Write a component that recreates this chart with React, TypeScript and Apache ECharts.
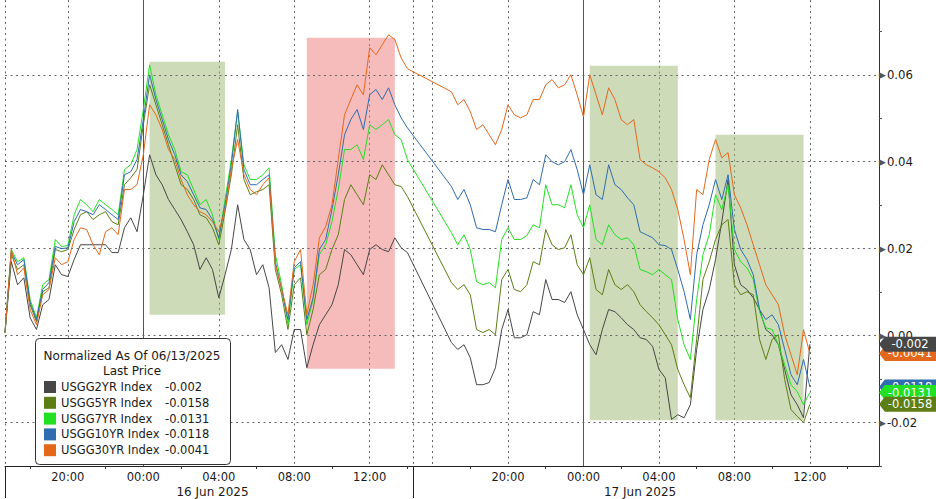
import React, { useEffect, useRef } from "react";
import * as echarts from "echarts";

const FONT = "DejaVu Sans";

const SERIES_NAMES = ["USGG2YR Index", "USGG5YR Index", "USGG7YR Index", "USGG10YR Index", "USGG30YR Index"];
const LINE_COLORS = ["#474747", "#5c7e15", "#22e022", "#2f6cb0", "#e4681c"];
const TAG_Z = [10, 8, 7, 6, 9];

const LEGEND_TITLE = "Normalized As Of 06/13/2025";
const LEGEND_SUBTITLE = "Last Price";

// time slots (20 min), two sessions
const SESSION_STARTS = ["06-15 16:40", "06-16 15:20"];
const SESSION_SLOTS = [66, 74];
const SLOT_MINUTES = 20;

const SEPARATORS = ["06-15 16:40", "06-16 14:20"];
const DAY_LINES = ["06-16 00:00", "06-17 00:00"];
const DATE_AT = ["06-16 03:40", "06-17 03:00"];
const DATE_TEXT = ["16 Jun 2025", "17 Jun 2025"];
const Y_GRID = [-0.02, 0, 0.02, 0.04, 0.06];

const HIGHLIGHT_FROM = ["06-16 00:20", "06-16 08:40", "06-17 00:20", "06-17 07:00"];
const HIGHLIGHT_TO = ["06-16 04:20", "06-16 13:20", "06-17 05:00", "06-17 11:40"];
const HIGHLIGHT_TOP = [0.063, 0.0685, 0.0621, 0.0462];
const HIGHLIGHT_BOTTOM = [0.0048, -0.0076, -0.0195, -0.0195];
const HIGHLIGHT_COLOR = ["rgba(155,183,113,0.5)", "rgba(237,121,121,0.5)", "rgba(155,183,113,0.5)", "rgba(155,183,113,0.5)"];

const N = null;

const USGG2YR = [
  0.0007, 0.0170, 0.0117, 0.0133, 0.0041, 0.0014, 0.0071, 0.0083, 0.0163, 0.0140,
  0.0136, 0.0175, 0.0209, 0.0209, 0.0209, 0.0209, 0.0209, 0.0191, 0.0191, 0.0248,
  0.0271, 0.0239, 0.0324, 0.0416, 0.0370, 0.0347, 0.0313, 0.0290, 0.0267, 0.0239,
  0.0209, 0.0152, 0.0179, 0.0152, 0.0087, 0.0140, 0.0198, 0.0301, 0.0221, 0.0198,
  0.0140, 0.0163, 0.0110, -0.0039, -0.0021, -0.0055, 0.0014, 0.0014, -0.0074, -0.0021,
  0.0025, 0.0048, 0.0071, 0.0117, 0.0198, 0.0186, 0.0163, 0.0140, 0.0198, 0.0209,
  0.0198, 0.0193, 0.0225, 0.0202, 0.0191, N, N, N, N, N,
  N, -0.0016, -0.0032, -0.0021, -0.0051, -0.0113, -0.0113, -0.0108, -0.0074, 0.0014,
  0.0060, -0.0005, -0.0005, 0.0002, 0.0055, 0.0048, 0.0129, 0.0083, 0.0083, 0.0076,
  0.0101, 0.0048, 0.0014, -0.0021, -0.0044, 0.0014, 0.0060, 0.0055, 0.0041, 0.0025,
  0.0014, -0.0005, -0.0009, -0.0025, -0.0078, -0.0097, -0.0193, -0.0182, -0.0189, -0.0159,
  -0.0032, 0.0060, 0.0106, 0.0175, 0.0262, 0.0359, 0.0163, 0.0117, 0.0106, 0.0087,
  0.0060, 0.0014, 0.0002, -0.0021, -0.0078, -0.0136, -0.0159, -0.0189, -0.002,
];

const USGG5YR = [
  0.0007, 0.0186, 0.0152, 0.0163, 0.0071, 0.0032, 0.0101, 0.0110, 0.0198, 0.0193,
  0.0198, 0.0244, 0.0278, 0.0285, 0.0267, 0.0278, 0.0285, 0.0262, 0.0255, 0.0347,
  0.0363, 0.0382, 0.0485, 0.0577, 0.0531, 0.0485, 0.0439, 0.0393, 0.0347, 0.0336,
  0.0313, 0.0278, 0.0271, 0.0248, 0.0209, 0.0285, 0.0370, 0.0485, 0.0359, 0.0324,
  0.0331, 0.0336, 0.0347, 0.0152, 0.0094, 0.0014, 0.0117, 0.0133, 0.0002, 0.0060,
  0.0140, 0.0152, 0.0198, 0.0232, 0.0313, 0.0347, 0.0324, 0.0301, 0.0370, 0.0359,
  0.0393, 0.0370, 0.0347, 0.0343, 0.0320, N, N, N, N, N,
  N, 0.0122, 0.0106, 0.0117, 0.0094, 0.0014, 0.0007, 0.0014, 0.0002, 0.0129,
  0.0152, 0.0106, 0.0101, 0.0117, 0.0170, 0.0163, 0.0244, 0.0209, 0.0198, 0.0202,
  0.0232, 0.0163, 0.0140, 0.0179, 0.0106, 0.0094, 0.0152, 0.0117, 0.0106, 0.0117,
  0.0101, 0.0071, 0.0055, 0.0041, 0.0025, 0.0002, -0.0021, -0.0078, -0.0113, -0.0143,
  -0.0009, 0.0129, 0.0170, 0.0221, 0.0255, 0.0267, 0.0117, 0.0094, 0.0101, 0.0094,
  -0.0009, -0.0055, -0.0009, 0.0002, -0.0101, -0.0170, -0.0186, -0.0200, -0.0158,
];

const USGG7YR = [
  0.0007, 0.0198, 0.0170, 0.0179, 0.0083, 0.0041, 0.0117, 0.0129, 0.0221, 0.0205,
  0.0207, 0.0278, 0.0313, 0.0301, 0.0285, 0.0313, 0.0301, 0.0290, 0.0278, 0.0382,
  0.0393, 0.0428, 0.0520, 0.0623, 0.0554, 0.0508, 0.0462, 0.0428, 0.0377, 0.0370,
  0.0336, 0.0301, 0.0313, 0.0278, 0.0221, 0.0313, 0.0405, 0.0515, 0.0393, 0.0359,
  0.0359, 0.0370, 0.0386, 0.0186, 0.0117, 0.0025, 0.0152, 0.0163, 0.0025, 0.0083,
  0.0186, 0.0209, 0.0262, 0.0336, 0.0428, 0.0428, 0.0439, 0.0405, 0.0485, 0.0474,
  0.0485, 0.0497, 0.0462, 0.0451, 0.0405, N, N, N, N, N,
  N, 0.0237, 0.0209, 0.0232, 0.0198, 0.0124, 0.0117, 0.0122, 0.0110, 0.0221,
  0.0248, 0.0221, 0.0221, 0.0230, 0.0255, 0.0248, 0.0347, 0.0301, 0.0301, 0.0294,
  0.0347, 0.0278, 0.0248, 0.0301, 0.0221, 0.0209, 0.0255, 0.0232, 0.0221, 0.0225,
  0.0209, 0.0152, 0.0147, 0.0140, 0.0152, 0.0140, 0.0129, 0.0037, -0.0021, -0.0055,
  0.0083, 0.0186, 0.0232, 0.0324, 0.0290, 0.0347, 0.0198, 0.0170, 0.0156, 0.0129,
  0.0055, 0.0018, 0.0014, -0.0021, -0.0067, -0.0113, -0.0129, -0.0159, -0.0131,
];

const USGG10YR = [
  0.0007, 0.0193, 0.0163, 0.0175, 0.0076, 0.0037, 0.0106, 0.0122, 0.0205, 0.0200,
  0.0202, 0.0262, 0.0290, 0.0285, 0.0278, 0.0301, 0.0290, 0.0278, 0.0267, 0.0370,
  0.0377, 0.0405, 0.0497, 0.0600, 0.0543, 0.0497, 0.0451, 0.0416, 0.0370, 0.0354,
  0.0324, 0.0294, 0.0290, 0.0267, 0.0225, 0.0301, 0.0393, 0.0520, 0.0382, 0.0347,
  0.0347, 0.0359, 0.0370, 0.0170, 0.0106, 0.0037, 0.0156, 0.0170, 0.0037, 0.0087,
  0.0198, 0.0221, 0.0290, 0.0370, 0.0462, 0.0497, 0.0520, 0.0474, 0.0554, 0.0566,
  0.0543, 0.0570, 0.0531, 0.0501, 0.0478, N, N, N, N, N,
  N, 0.0343, 0.0313, 0.0336, 0.0301, 0.0248, 0.0244, 0.0244, 0.0239, 0.0301,
  0.0359, 0.0313, 0.0313, 0.0317, 0.0359, 0.0347, 0.0416, 0.0400, 0.0393, 0.0400,
  0.0428, 0.0382, 0.0324, 0.0393, 0.0324, 0.0313, 0.0393, 0.0347, 0.0336, 0.0317,
  0.0301, 0.0239, 0.0232, 0.0225, 0.0209, 0.0207, 0.0198, 0.0152, 0.0101, 0.0037,
  0.0186, 0.0255, 0.0301, 0.0359, 0.0313, 0.0370, 0.0244, 0.0198, 0.0175, 0.0140,
  0.0060, 0.0037, 0.0048, 0.0025, -0.0032, -0.0090, -0.0113, -0.0055, -0.0118,
];

const USGG30YR = [
  0.0007, 0.0198, 0.0140, 0.0156, 0.0060, 0.0025, 0.0094, 0.0106, 0.0179, 0.0163,
  0.0170, 0.0221, 0.0248, 0.0244, 0.0209, 0.0186, 0.0239, 0.0248, 0.0232, 0.0336,
  0.0336, 0.0347, 0.0416, 0.0531, 0.0508, 0.0474, 0.0428, 0.0405, 0.0359, 0.0324,
  0.0301, 0.0285, 0.0278, 0.0262, 0.0239, 0.0290, 0.0382, 0.0451, 0.0370, 0.0336,
  0.0324, 0.0347, 0.0363, 0.0163, 0.0106, 0.0048, 0.0170, 0.0198, 0.0048, 0.0117,
  0.0225, 0.0251, 0.0301, 0.0405, 0.0508, 0.0543, 0.0577, 0.0554, 0.0662, 0.0646,
  0.0669, 0.0692, 0.0681, 0.0639, 0.0614, N, N, N, N, N,
  N, 0.0561, 0.0531, 0.0543, 0.0515, 0.0474, 0.0485, 0.0462, 0.0439, 0.0474,
  0.0531, 0.0508, 0.0501, 0.0508, 0.0543, 0.0543, 0.0577, 0.0589, 0.0570, 0.0577,
  0.0600, 0.0554, 0.0503, 0.0600, 0.0554, 0.0508, 0.0570, 0.0543, 0.0497, 0.0485,
  0.0497, 0.0405, 0.0393, 0.0386, 0.0377, 0.0363, 0.0336, 0.0290, 0.0221, 0.0140,
  0.0336, 0.0324, 0.0405, 0.0451, 0.0409, 0.0421, 0.0324, 0.0294, 0.0255, 0.0209,
  0.0163, 0.0117, 0.0094, 0.0071, 0.0002, -0.0044, -0.0090, 0.0014, -0.0041,
];

const SERIES_DATA = [USGG2YR, USGG5YR, USGG7YR, USGG10YR, USGG30YR];

function pad(n: number) {
  return n < 10 ? "0" + n : String(n);
}
function toMin(s: string) {
  const d = +s.slice(3, 5), h = +s.slice(6, 8), m = +s.slice(9, 11);
  return (d - 15) * 1440 + h * 60 + m;
}
function fmt(t: number) {
  const d = 15 + Math.floor(t / 1440);
  const r = t % 1440;
  return `06-${pad(d)} ${pad(Math.floor(r / 60))}:${pad(r % 60)}`;
}
const CATEGORIES: string[] = [];
SESSION_STARTS.forEach((s, k) => {
  const t0 = toMin(s);
  for (let i = 0; i < SESSION_SLOTS[k]; i++) CATEGORIES.push(fmt(t0 + i * SLOT_MINUTES));
});
const hh = (v: string) => +v.slice(6, 8);
const mm = (v: string) => +v.slice(9, 11);

export default function App() {
  const ref = useRef<HTMLDivElement>(null);
  useEffect(() => {
    if (!ref.current) return;
    const chart = echarts.init(ref.current, null, { renderer: "svg" });
    const lastCat = CATEGORIES[CATEGORIES.length - 1];
    const last = SERIES_DATA.map((d) => d[d.length - 1] as number);
    const dotted = { type: [2, 3.5] as any, color: "#666", width: 1 };

    const series: any[] = SERIES_NAMES.map((name, i) => {
      const s: any = {
        type: "line",
        name,
        data: SERIES_DATA[i],
        showSymbol: false,
        symbol: "none",
        connectNulls: true,
        clip: false,
        silent: true,
        z: 2,
        lineStyle: { width: 1, color: LINE_COLORS[i] },
        itemStyle: { color: LINE_COLORS[i] },
        markPoint: {
          z: TAG_Z[i],
          silent: true,
          symbol: "path://M0,7 L6,0 L60,0 L60,14 L6,14 Z",
          symbolSize: [58, 15],
          symbolKeepAspect: false,
          symbolOffset: [29, 0],
          itemStyle: { color: LINE_COLORS[i] },
          label: {
            show: true,
            position: "inside",
            offset: [2, 0],
            color: "#fff",
            fontSize: 11.5,
            fontFamily: FONT,
            formatter: () => String(last[i]),
          },
          data: [{ coord: [lastCat, last[i]], value: last[i] }],
        },
      };
      if (i === 0) {
        s.markArea = {
          silent: true,
          z: 1,
          data: HIGHLIGHT_FROM.map((f, k) => [
            { xAxis: f, yAxis: HIGHLIGHT_TOP[k], itemStyle: { color: HIGHLIGHT_COLOR[k] } },
            { xAxis: HIGHLIGHT_TO[k], yAxis: HIGHLIGHT_BOTTOM[k] },
          ]),
        };
        s.markLine = {
          silent: true,
          z: 1,
          symbol: ["none", "none"],
          label: { show: false },
          lineStyle: dotted,
          data: Y_GRID.map((v) => ({ yAxis: v })),
        };
      }
      return s;
    });

    chart.setOption({
      animation: false,
      textStyle: { fontFamily: FONT },
      grid: { left: 5, right: 57, top: 0, bottom: 33, containLabel: false },
      xAxis: [
        {
          type: "category",
          data: CATEGORIES,
          boundaryGap: false,
          position: "bottom",
          axisLine: { show: true, onZero: false, lineStyle: { color: "#222", width: 1 } },
          axisTick: {
            show: true,
            length: 3,
            interval: (_i: number, v: string) => hh(v) % 4 === 2 && mm(v) === 0,
            lineStyle: { color: "#333" },
          },
          axisLabel: {
            interval: (_i: number, v: string) => hh(v) % 4 === 0 && mm(v) === 0 && hh(v) !== 16,
            formatter: (v: string) => v.slice(6),
            margin: 5,
            fontFamily: FONT,
            fontSize: 11.5,
            color: "#1a1a1a",
          },
          splitLine: {
            show: true,
            interval: (_i: number, v: string) => (hh(v) % 4 === 0 && mm(v) === 0) || SEPARATORS.includes(v),
            lineStyle: dotted,
          },
        },
        {
          type: "category",
          data: CATEGORIES,
          boundaryGap: false,
          position: "bottom",
          axisLine: { show: false, onZero: false },
          axisTick: {
            show: true,
            length: 32,
            interval: (_i: number, v: string) => SEPARATORS.includes(v),
            lineStyle: { color: "#222" },
          },
          axisLabel: {
            interval: (_i: number, v: string) => DATE_AT.includes(v),
            formatter: (v: string) => DATE_TEXT[DATE_AT.indexOf(v)] || "",
            margin: 20,
            fontFamily: FONT,
            fontSize: 12,
            color: "#1a1a1a",
          },
          splitLine: {
            show: true,
            interval: (_i: number, v: string) => DAY_LINES.includes(v),
            lineStyle: { type: "solid", color: "#555", width: 1 },
          },
        },
      ],
      yAxis: {
        type: "value",
        position: "right",
        min: -0.03,
        max: 0.0772,
        interval: 0.01,
        axisLine: { show: true, lineStyle: { color: "#333" } },
        axisTick: { show: true, length: 3, lineStyle: { color: "#555" } },
        splitLine: { show: false },
        axisLabel: {
          margin: 0,
          showMaxLabel: false,
          formatter: (v: number) => {
            const k = Math.round(v * 100);
            if (Math.abs(v * 100 - k) > 1e-6 || k % 2 !== 0) return "";
            return "{t|\u25B6}{l|" + v.toFixed(2) + "}";
          },
          rich: {
            t: { fontSize: 9, color: "#555", fontFamily: FONT },
            l: { fontSize: 11.7, color: "#1a1a1a", fontFamily: FONT, padding: [0, 0, 0, 1] },
          },
        },
      },
      legend: {
        orient: "vertical",
        left: 44,
        top: 381,
        padding: 0,
        itemWidth: 12,
        itemHeight: 12,
        itemGap: 3.8,
        icon: "rect",
        selectedMode: false,
        z: 200,
        data: SERIES_NAMES,
        formatter: (name: string) => {
          const i = SERIES_NAMES.indexOf(name);
          return `{n|${name}}{v|${last[i]}}`;
        },
        textStyle: {
          fontFamily: FONT,
          fontSize: 11.5,
          lineHeight: 12,
          color: "#1a1a1a",
          rich: {
            n: { width: 104, fontFamily: FONT, fontSize: 11.5, lineHeight: 12, color: "#1a1a1a" },
            v: { fontFamily: FONT, fontSize: 11.5, lineHeight: 12, color: "#1a1a1a" },
          },
        },
      },
      graphic: [
        {
          type: "rect",
          z: 100,
          silent: true,
          shape: { x: 35.5, y: 338.5, width: 195, height: 126, r: 4 },
          style: { fill: "#fff", stroke: "#333", lineWidth: 1 },
        },
        {
          type: "text",
          z: 101,
          silent: true,
          x: 132,
          y: 356,
          style: { text: LEGEND_TITLE, align: "center", verticalAlign: "middle", fontFamily: FONT, fontSize: 12, fill: "#1a1a1a" },
        },
        {
          type: "text",
          z: 101,
          silent: true,
          x: 132,
          y: 371,
          style: { text: LEGEND_SUBTITLE, align: "center", verticalAlign: "middle", fontFamily: FONT, fontSize: 12, fill: "#1a1a1a" },
        },
      ],
      series,
    });
    return () => chart.dispose();
  }, []);
  return (
    <div
      ref={ref}
      style={{ position: "fixed", left: 0, top: 0, width: 936, height: 499, background: "#fff" }}
    />
  );
}
